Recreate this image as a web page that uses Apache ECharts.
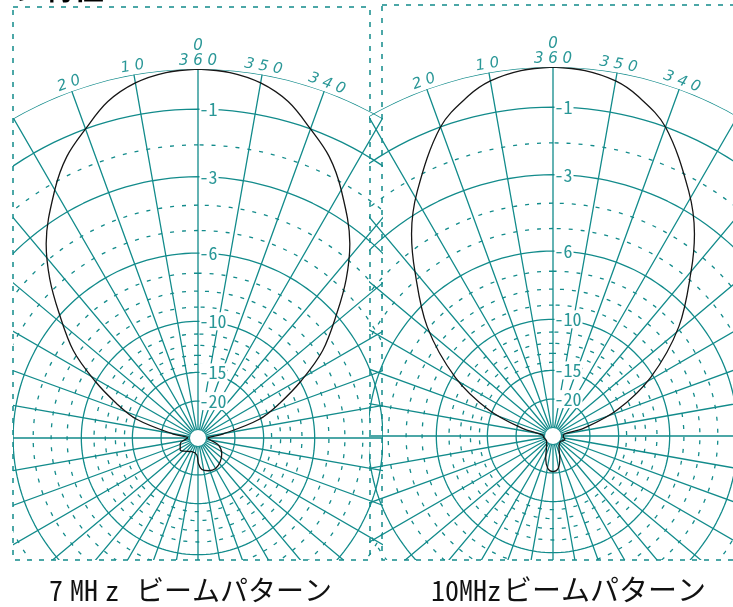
<!DOCTYPE html>
<html>
<head>
<meta charset="utf-8">
<script src="https://cdn.jsdelivr.net/npm/echarts@6/dist/echarts.min.js"></script>
<style>
html, body { margin: 0; padding: 0; background: #fff; }
#wrap { position: relative; width: 733px; height: 607px; overflow: hidden; }
#bg { position: absolute; left: 0; top: 0; width: 733px; height: 607px; }
#p7 { position: absolute; left: 13px; top: 0; width: 370px; height: 560px; }
#p10 { position: absolute; left: 369px; top: 0; width: 364px; height: 560px; }
</style>
</head>
<body>
<div id="wrap"><div id="bg"></div><div id="p7"></div><div id="p10"></div></div>
<script>
const TEAL = '#128b8b';
const TEAL_TXT = '#2a9797';
const CLEAR = 'rgba(0,0,0,0)';

// grid rings in dB (radius is linear in field strength)
const solidRings = [0, -1, -3, -6, -10, -15, -20];
const dashedRings = [-2, -4, -5, -7, -8, -9, -11, -12, -13, -14];
const ringLabelDb = [-1, -3, -6, -10, -15, -20];
const ringLabels = ['-1', '-3', '-6', '-10', '-15', '-20'];
const angleLabelAt = [0, 10, 20, 340, 350];
const angleLabels = ['3 6 0', '1 0', '2 0', '3 4 0', '3 5 0'];
const ringSteps = Array.from({length: 181}, (_, i) => i * 2);

// 7MHz pattern (deg CCW from front, dB)
const ang7 = [0, 5, 10, 15, 20, 25, 30, 38, 43, 48, 55, 61, 67, 73, 81, 88, 95, 107, 124, 140, 156, 176, 181, 187, 198, 210, 223, 237, 251, 261, 268, 272, 279, 287, 293, 299, 305, 312, 317, 322, 330, 335, 340, 345, 350, 355, 360];
const db7 = [0, -0.05, -0.2, -0.5, -1.0, -1.5, -2.2, -3.5, -4.6, -5.9, -7.7, -9.9, -12.4, -15.2, -23.4, -31, -29.7, -26, -24.7, -26.5, -27.8, -26.7, -23.2, -21.3, -20.6, -20.4, -21.1, -22.3, -24.6, -29.4, -31.4, -31, -23.4, -15.2, -12.4, -9.9, -7.7, -5.9, -4.6, -3.5, -2.2, -1.5, -1.0, -0.5, -0.2, -0.05, 0];

// 10MHz pattern
const ang10 = [0, 5, 10, 14, 20, 29, 35, 40, 49, 59, 68, 76, 85, 100, 130, 152, 162, 171, 180, 189, 197, 206, 230, 248, 256, 265, 275, 284, 292, 301, 311, 320, 325, 331, 340, 346, 350, 355, 360];
const db10 = [0, -0.05, -0.2, -0.45, -1.0, -2.4, -3.5, -4.7, -6.9, -10.2, -14.6, -21.4, -31, -32, -33, -28.4, -23.9, -21.0, -20.3, -21.0, -24.0, -28.6, -32, -30, -29.6, -31, -31, -21.4, -14.6, -10.2, -6.9, -4.7, -3.5, -2.4, -1.0, -0.45, -0.2, -0.05, 0];

const volt = db => Math.pow(10, db / 20);

function ring(db, dashed) {
    return {
        type: 'line', coordinateSystem: 'polar', silent: true, symbol: 'none', z: 2,
        data: ringSteps.map(a => [volt(db), a]),
        lineStyle: {color: TEAL, width: 1.3, type: dashed ? [4, 8] : 'solid'},
    };
}

function panelOption(cx, cy, angs, dbs) {
    const series = [];
    solidRings.forEach(d => series.push(ring(d, false)));
    dashedRings.forEach(d => series.push(ring(d, true)));
    series.push({
        type: 'scatter', coordinateSystem: 'polar', silent: true, z: 4,
        data: [[0, 0]], symbolSize: 17,
        itemStyle: {color: '#fff', opacity: 1, borderColor: TEAL, borderWidth: 1},
    });
    series.push({
        type: 'line', coordinateSystem: 'polar', silent: true, symbol: 'none', z: 5,
        smooth: 0.35,
        data: angs.map((a, i) => [volt(dbs[i]), a]),
        lineStyle: {color: '#161616', width: 1.3},
    });
    // ring labels on the front axis
    series.push({
        type: 'scatter', coordinateSystem: 'polar', silent: true, z: 6, clip: false,
        data: ringLabelDb.map(d => [volt(d), 0]), symbolSize: 1,
        itemStyle: {color: CLEAR, opacity: 1},
        labelLayout: {hideOverlap: false},
        label: {
            show: true, position: 'right', distance: 1,
            formatter: p => ringLabels[p.dataIndex],
            color: TEAL_TXT, fontSize: 18,
            fontFamily: '"Noto Sans Mono CJK JP", "DejaVu Sans Mono", monospace',
            backgroundColor: '#fff', padding: [0, 1, 0, 0],
        },
    });
    // bearing labels along the outer ring
    series.push({
        type: 'scatter', coordinateSystem: 'polar', silent: true, z: 6, clip: false,
        data: angleLabelAt.map(a => ({value: [1.022, a], label: {rotate: a > 180 ? a - 360 : a}})),
        symbolSize: 1, itemStyle: {color: CLEAR, opacity: 1},
        labelLayout: {hideOverlap: false},
        label: {
            show: true, position: 'inside',
            formatter: p => angleLabels[p.dataIndex],
            color: TEAL_TXT, fontSize: 15, fontStyle: 'italic',
            fontFamily: '"DejaVu Sans", sans-serif',
        },
    });
    series.push({
        type: 'scatter', coordinateSystem: 'polar', silent: true, z: 6, clip: false,
        data: [[1.062, 0]], symbolSize: 1, itemStyle: {color: CLEAR, opacity: 1},
        label: {
            show: true, position: 'inside', formatter: '0',
            color: TEAL_TXT, fontSize: 15, fontStyle: 'italic',
            fontFamily: '"DejaVu Sans", sans-serif',
        },
    });
    return {
        animation: false,
        polar: {center: [cx, cy], radius: 369},
        angleAxis: {
            type: 'value', min: 0, max: 360, interval: 10,
            startAngle: 90, clockwise: false,
            axisLine: {show: false}, axisTick: {show: false}, axisLabel: {show: false},
            splitLine: {show: true, lineStyle: {color: TEAL, width: 1.3}},
        },
        radiusAxis: {
            type: 'value', min: 0, max: 1,
            axisLine: {show: false}, axisTick: {show: false}, axisLabel: {show: false},
            splitLine: {show: false},
        },
        series,
    };
}

const c7 = echarts.init(document.getElementById('p7'));
c7.setOption(panelOption(185, 438, ang7, db7));
const c10 = echarts.init(document.getElementById('p10'));
c10.setOption(panelOption(184, 436, ang10, db10));

const dashBox = (x, y, w, h) => ({
    type: 'rect', shape: {x, y, width: w, height: h}, silent: true,
    style: {fill: 'none', stroke: TEAL, lineWidth: 1.5, lineDash: [5, 7]},
});
const capFont = '"Noto Sans CJK JP", sans-serif';
const mono = '"Noto Sans Mono CJK JP", "DejaVu Sans Mono", monospace';
const txt = (text, x, font, size, align) => ({
    type: 'text', x, y: 590, silent: true,
    style: {text, fill: '#111', font: `${size}px ${font}`, verticalAlign: 'middle', align: align || 'left'},
});

const bg = echarts.init(document.getElementById('bg'));
bg.setOption({
    animation: false,
    graphic: [
        dashBox(13, 7, 357, 553),
        dashBox(382, 5, 360, 555),
        {type: 'text', x: 104, y: 3, silent: true,
         style: {text: 'ン特性', fill: '#000', font: 'bold 30px "Noto Sans CJK JP"', align: 'right', verticalAlign: 'bottom'}},
        txt('7', 56, mono, 28, 'center'),
        txt('M', 77, mono, 28, 'center'),
        txt('H', 91, mono, 28, 'center'),
        txt('z', 112, mono, 28, 'center'),
        txt('ビームパターン', 136, capFont, 28),
        txt('10MHz', 431, mono, 28),
        txt('ビームパターン', 503, capFont, 29),
    ],
});
</script>
</body>
</html>
